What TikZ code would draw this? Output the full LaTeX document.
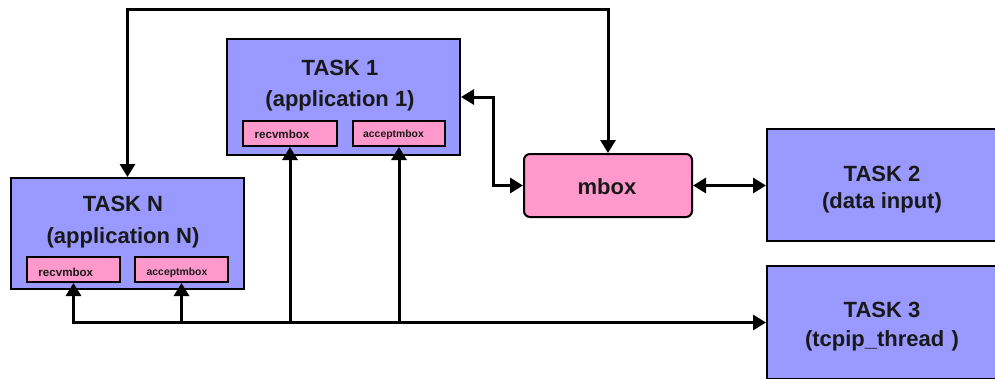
\documentclass[tikz,border=0pt]{standalone}
\usepackage{fontspec}
\setmainfont{Liberation Sans}
\usetikzlibrary{arrows.meta}

\definecolor{taskblue}{RGB}{153,153,255}
\definecolor{mboxpink}{RGB}{255,153,204}

\tikzset{
  taskbox/.style={draw=black, line width=2pt, fill=taskblue, inner sep=0pt,
    anchor=north west},
  subbox/.style={draw=black, line width=2pt, fill=mboxpink, inner sep=0pt,
    anchor=north west, minimum height=25pt},
  bigtext/.style={font=\fontsize{22}{26}\selectfont\bfseries, align=center,
    inner sep=0pt, text=black!90},
  smalltext/.style={font=\bfseries, inner sep=0pt, anchor=base, text=black!90},
  conn/.style={line width=3pt, line join=miter},
  tip/.tip={Triangle[length=13pt, width=15pt]},
}

\begin{document}
\begin{tikzpicture}[x=1pt, y=-1pt]
  \clip (0,0) rectangle (995,378);
  \fill[white] (0,0) rectangle (995,378);

  % task boxes
  \node[taskbox, minimum width=233pt, minimum height=116pt] (t1) at (226,38) {};
  \node[taskbox, minimum width=233pt, minimum height=111pt] (tN) at (10,177) {};
  \node[taskbox, minimum width=230pt, minimum height=112pt] (t2) at (766,128) {};
  \node[taskbox, minimum width=230pt, minimum height=113pt] (t3) at (766,265) {};

  % mailbox
  \node[draw=black, line width=2pt, fill=mboxpink, rounded corners=6pt,
        minimum width=168pt, minimum height=63pt, anchor=north west,
        inner sep=0pt] (mb) at (523,153) {};

  % receive / accept boxes inside the application tasks
  \node[subbox, minimum width=94pt] (r1) at (242,120) {};
  \node[subbox, minimum width=92pt] (a1) at (352,120) {};
  \node[subbox, minimum width=93pt] (rN) at (26,256) {};
  \node[subbox, minimum width=93pt] (aN) at (134,256) {};

  % labels
  \node[bigtext] (t1lbl) at (340,86) {TASK 1\\[5pt](application 1)};
  \node[bigtext] (tNlbl) at (123,222.4) {TASK N\\[6pt](application N)};
  \node[bigtext] (t2lbl) at (882,190) {TASK 2\\[1pt](data input)};
  \node[bigtext] (t3lbl) at (882,327) {TASK 3\\[3pt](tcpip\_thread\,\,)};
  \node[bigtext, anchor=base] (mblbl) at (607,194) {mbox};

  \node[smalltext, font=\fontsize{11.6}{13}\selectfont\bfseries] (r1lbl) at (282,138) {recvmbox};
  \node[smalltext, font=\fontsize{10.4}{12}\selectfont\bfseries] (a1lbl) at (393.5,137) {acceptmbox};
  \node[smalltext, font=\fontsize{11.6}{13}\selectfont\bfseries] (rNlbl) at (65.8,276) {recvmbox};
  \node[smalltext, font=\fontsize{10.4}{12}\selectfont\bfseries] (aNlbl) at (177,275) {acceptmbox};

  % routing points
  \coordinate (topy) at (0,9);
  \coordinate (j1) at (493,140);

  % connectors
  \draw[conn, tip-tip] (tN.north) -- (tN.north |- topy) -| (mb.north);
  \draw[conn, tip-tip] (t1.east) -| (j1) |- (mb.west);
  \draw[conn, tip-tip] (mb.east) -- (mb.east -| t2.west);

  % shared bus along the bottom
  \draw[conn, tip-tip] (rN.south) |- (t3.west);
  \draw[conn, -tip] (aN.south |- t3.west) -- (aN.south);
  \draw[conn, -tip] (r1.south |- t3.west) -- (r1.south);
  \draw[conn, -tip] (a1.south |- t3.west) -- (a1.south);
\end{tikzpicture}
\end{document}
